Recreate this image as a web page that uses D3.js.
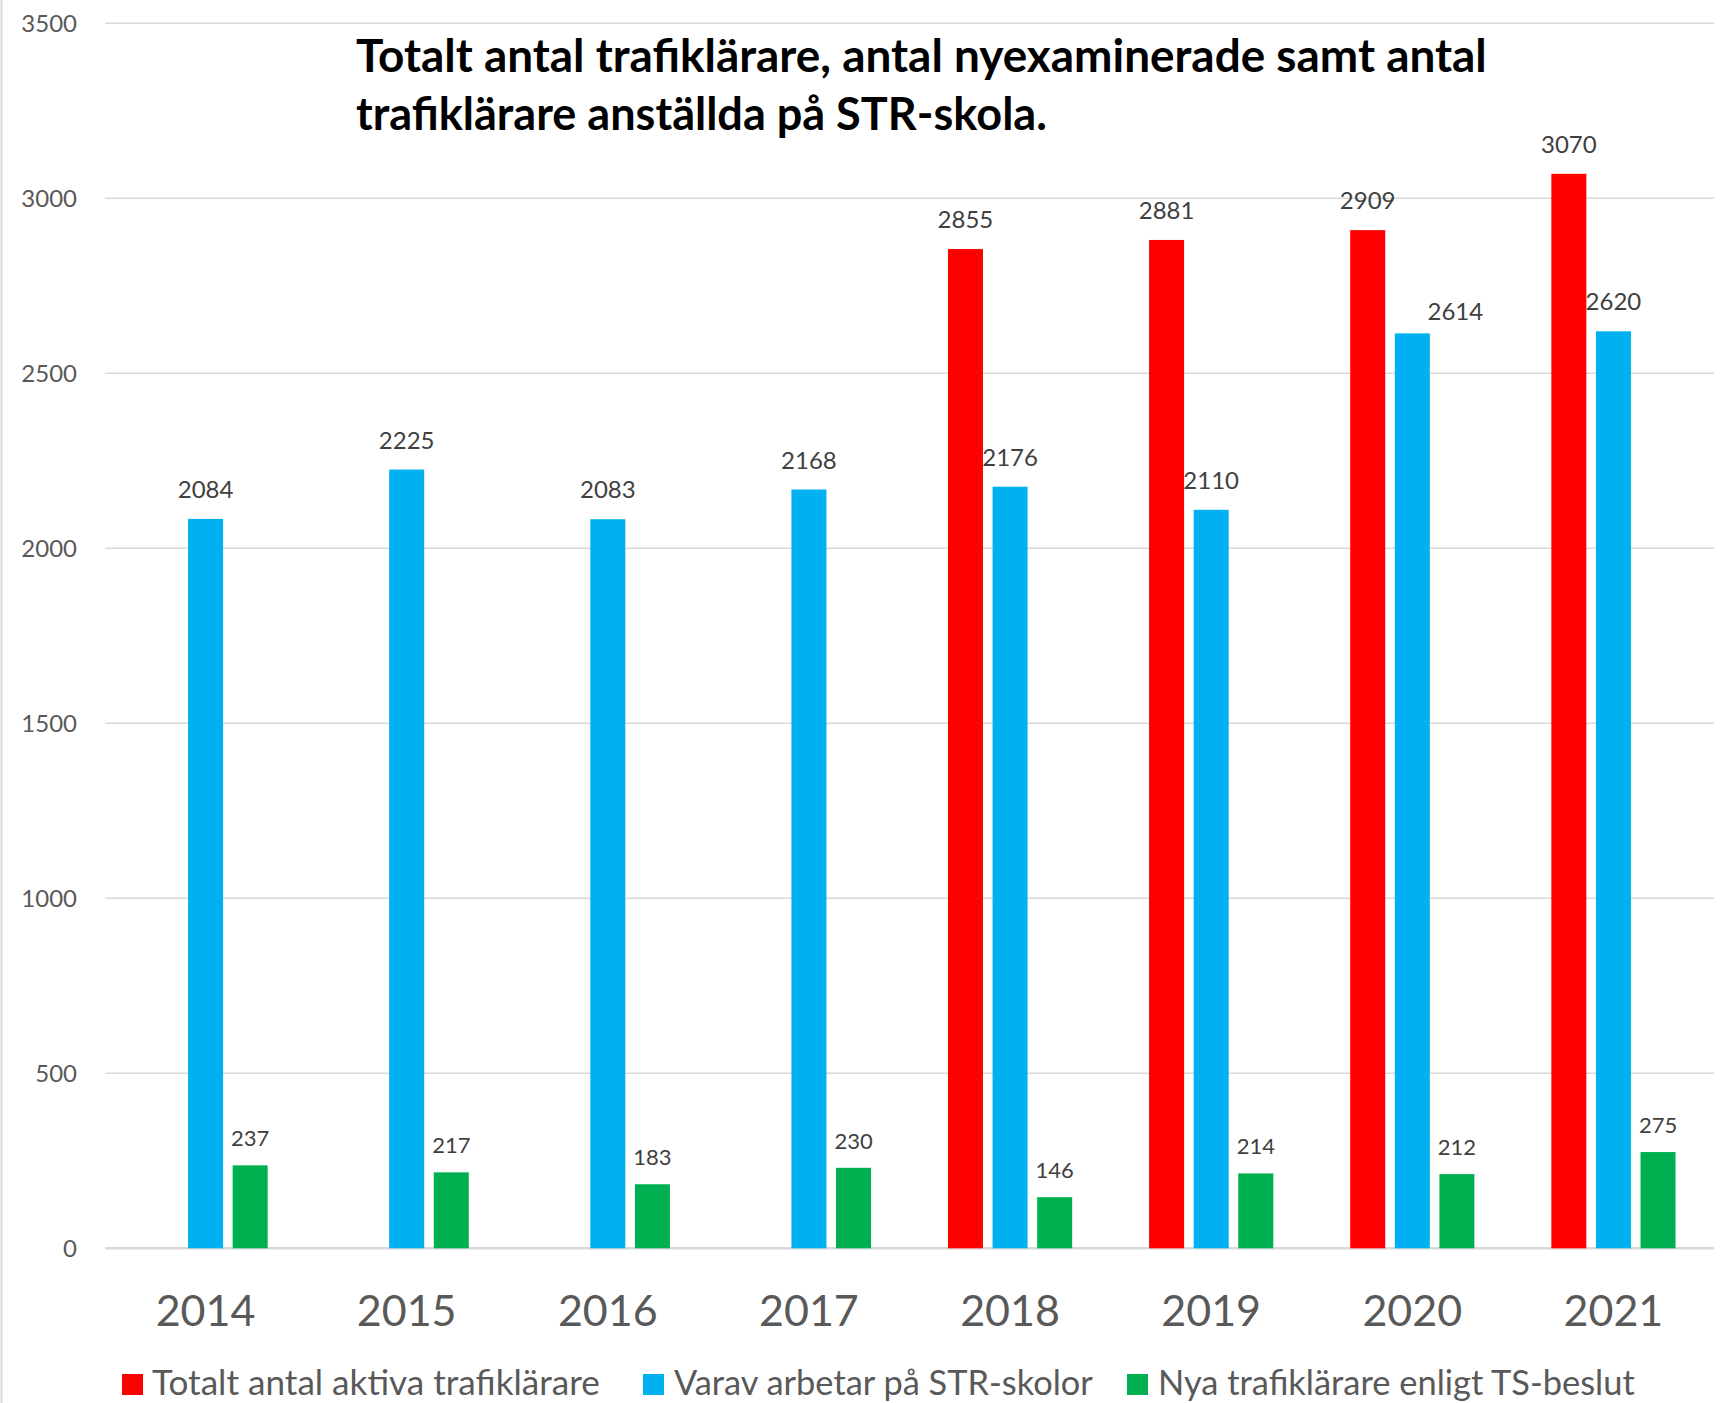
<!DOCTYPE html>
<html>
<head>
<meta charset="utf-8">
<script src="https://cdn.jsdelivr.net/npm/d3@7"></script>
<style>
  html, body { margin: 0; padding: 0; background: #fff; }
  svg { display: block; }
</style>
</head>
<body>
<svg id="chart" width="1726" height="1403"></svg>
<script>
// ---- data ----
const years = ["2014", "2015", "2016", "2017", "2018", "2019", "2020", "2021"];
const totalActive = [null, null, null, null, 2855, 2881, 2909, 3070];
const atSTR = [2084, 2225, 2083, 2168, 2176, 2110, 2614, 2620];
const newTS = [237, 217, 183, 230, 146, 214, 212, 275];
const seriesNames = ["Totalt antal aktiva trafiklärare", "Varav arbetar på STR-skolor", "Nya trafiklärare enligt TS-beslut"];
const seriesColors = ["#FF0000", "#00B0F0", "#00B050"];
const yTicks = [0, 500, 1000, 1500, 2000, 2500, 3000, 3500];
const titleLines = ["Totalt antal trafiklärare, antal nyexaminerade samt antal", "trafiklärare anställda på STR-skola."];

const seriesData = [totalActive, atSTR, newTS];
const FONT = "Lato, 'Open Sans', sans-serif";

// manually moved data label (series index, year) -> pixel nudge
const labelNudge = { "1-2020": [43, 8] };

const svg = d3.select("#chart");

// chart area border (left edge visible)
svg.append("line").attr("x1", 1.5).attr("x2", 1.5).attr("y1", 0).attr("y2", 1403)
  .attr("stroke", "#D9D9D9").attr("stroke-width", 2);

const plot = { left: 105, right: 1714, top: 23.3, bottom: 1248.3 };

const y = d3.scaleLinear().domain([0, 3500]).range([plot.bottom, plot.top]);
const x0 = d3.scaleBand().domain(years).range([plot.left, plot.right]).padding(0);
const x1 = d3.scaleBand().domain([0, 1, 2]).range([-62.1, 62.1]).paddingInner(0.215).paddingOuter(0);

// gridlines
svg.append("g").selectAll("line").data(yTicks).join("line")
  .attr("x1", plot.left).attr("x2", plot.right)
  .attr("y1", d => y(d)).attr("y2", d => y(d))
  .attr("stroke", "#D9D9D9").attr("stroke-width", d => d === 0 ? 2.5 : 1.5);

// y tick labels
svg.append("g").selectAll("text").data(yTicks).join("text")
  .attr("x", 77).attr("y", d => y(d)).attr("dy", "0.36em")
  .attr("text-anchor", "end")
  .attr("font-family", FONT).attr("font-size", 24).attr("fill", "#595959")
  .text(d => d);

// bars
const center = yr => x0(yr) + x0.bandwidth() / 2;
seriesData.forEach((vals, si) => {
  const pts = years.map((yr, i) => ({ yr, v: vals[i] })).filter(d => d.v != null);
  svg.append("g").selectAll("rect").data(pts).join("rect")
    .attr("x", d => center(d.yr) + x1(si))
    .attr("width", x1.bandwidth())
    .attr("y", d => y(d.v))
    .attr("height", d => y(0) - y(d.v))
    .attr("fill", seriesColors[si]);
  const nudge = d => labelNudge[si + "-" + d.yr] || [0, 0];
  svg.append("g").selectAll("text").data(pts).join("text")
    .attr("x", d => center(d.yr) + x1(si) + x1.bandwidth() / 2 + nudge(d)[0])
    .attr("y", d => y(d.v) - (si === 2 ? 19 : 21) + nudge(d)[1])
    .attr("text-anchor", "middle")
    .attr("font-family", FONT).attr("font-size", si === 2 ? 22 : 24)
    .attr("fill", "#404040")
    .text(d => d.v);
});

// category labels
svg.append("g").selectAll("text").data(years).join("text")
  .attr("x", d => center(d)).attr("y", 1325.5)
  .attr("text-anchor", "middle")
  .attr("font-family", FONT).attr("font-size", 43).attr("fill", "#595959")
  .text(d => d);

// helper: fit font size to a target width
function fit(sel, targetW) {
  const node = sel.node();
  const fs = parseFloat(sel.attr("font-size"));
  const w = node.getComputedTextLength();
  if (w > 0) sel.attr("font-size", (fs * targetW / w).toFixed(2));
}

// title
const titleTargets = [1131, 691];
const titleBase = [72, 130];
titleLines.forEach((t, i) => {
  const tx = svg.append("text").attr("x", 356).attr("y", titleBase[i])
    .attr("font-family", FONT).attr("font-weight", "bold").attr("font-size", 42)
    .attr("fill", "#000").text(t);
  fit(tx, titleTargets[i]);
});

// legend
const legSquares = [122, 643, 1127];
const legTextX = [152, 674, 1158];
const legTextW = [448, 419, 477];
const lg = svg.append("g");
seriesNames.forEach((name, i) => {
  lg.append("rect").attr("x", legSquares[i]).attr("y", 1374).attr("width", 21).attr("height", 21)
    .attr("fill", seriesColors[i]);
  const t = lg.append("text").attr("x", legTextX[i]).attr("y", 1395)
    .attr("font-family", FONT).attr("font-size", 31).attr("fill", "#595959").text(name);
  fit(t, legTextW[i]);
});
</script>
</body>
</html>
